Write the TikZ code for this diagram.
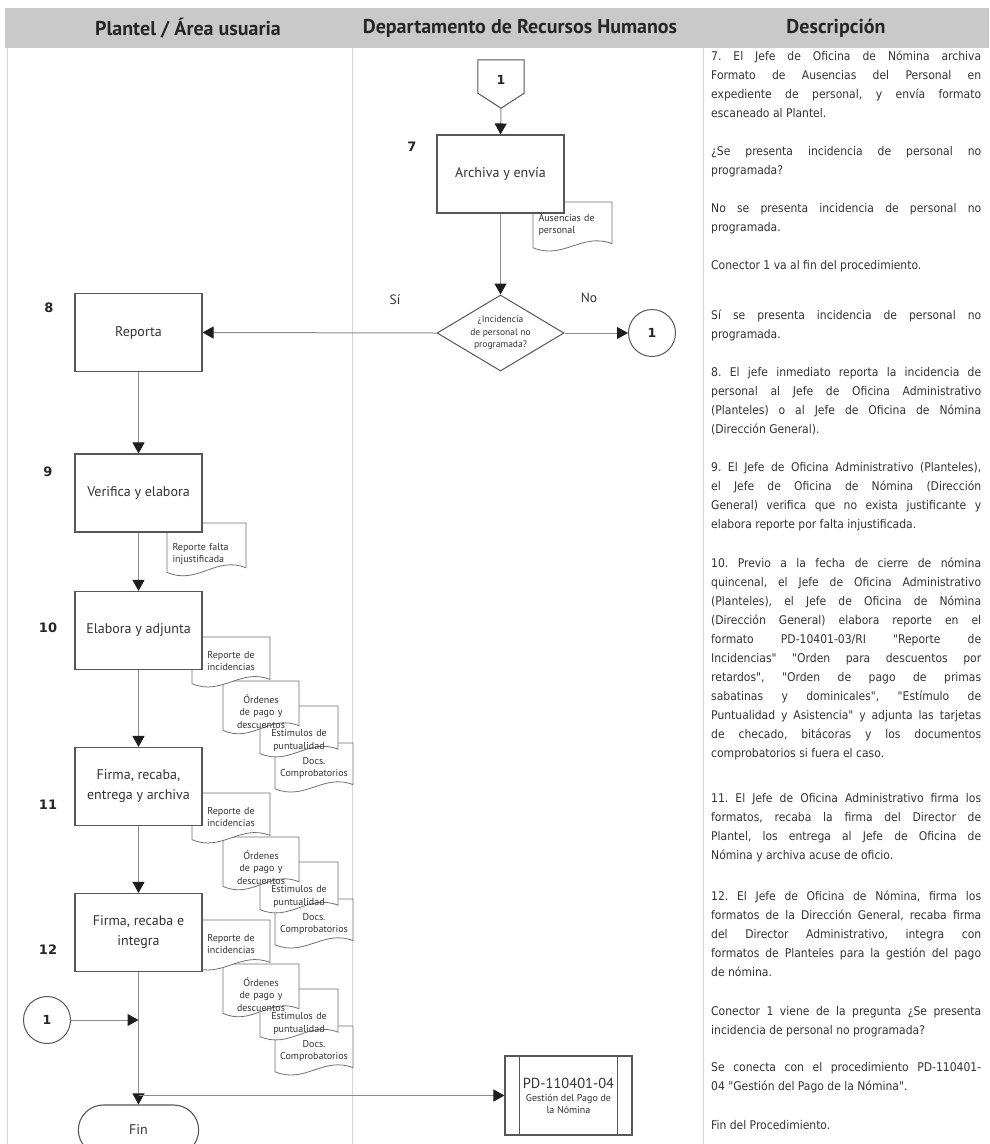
\documentclass[tikz,border=0pt]{standalone}
\usepackage{fontspec}
\setmainfont{DejaVu Sans}
\newfontfamily\descfont{DejaVu Sans Condensed}
\newfontfamily\headfont{PT Sans}
\newfontfamily\shapefont{PT Sans}
\usetikzlibrary{arrows.meta,shapes.geometric,shapes.misc}

\definecolor{lanegray}{HTML}{D6D6D6}
\definecolor{headgray}{HTML}{C9C9C9}
\definecolor{linegray}{HTML}{8C8C8C}
\definecolor{edgegray}{HTML}{575757}
\definecolor{inkgray}{HTML}{333333}
\definecolor{tipgray}{HTML}{1E1E1E}

% justified line / last line of a description paragraph
\newcommand\jl[1]{\makebox[270pt][s]{\strut#1}\\}
\newcommand\el[1]{\strut#1}
% description paragraph: name, vertical centre of first line, lines
\newcommand\para[3]{\node[desc] (#1) at (711,{#2-10.0}) {#3};}
% document symbol: [alignment] name, left, top, width, height, text centre (fraction of height), text
\newcommand\docsym[8][center]{%
  \filldraw[docline] (#3,#4) -- ({#3+#5},#4) -- ({#3+#5},{#4+0.80*#6})
    .. controls ({#3+0.62*#5},{#4+0.58*#6}) and ({#3+0.38*#5},{#4+1.12*#6}) .. (#3,{#4+0.88*#6}) -- cycle;
  \node[doctext,align=#1] (#2) at ({#3+#5/2},{#4+#7*#6}) {#8};}
% stack of four attachments hanging from a process box
\newcommand\docstack[2]{%
  \docsym{#1d}{275}{#2+106}{78}{52}{0.48}{Docs.\\Comprobatorios}
  \docsym{#1c}{260}{#2+69}{78}{54}{0.64}{Estímulos de\\puntualidad}
  \docsym{#1b}{223}{#2+44}{76}{56}{0.54}{Órdenes\\de pago y\\descuentos}
  \docsym{#1a}{192}{#2}{78}{53}{0.45}{Reporte de\\incidencias}}

\tikzset{
  stepbox/.style={draw=edgegray, line width=1.1pt, fill=white, minimum width=127pt,
    minimum height=78pt, inner sep=2pt, align=center, text=inkgray,
    font=\shapefont\fontsize{14}{20}\selectfont},
  decision/.style={diamond, draw=edgegray, line width=1pt, fill=white, minimum width=127pt,
    minimum height=76pt, inner sep=0pt, aspect=1.67, align=center, text=inkgray,
    font=\shapefont\fontsize{9.5}{12.5}\selectfont},
  conn/.style={circle, draw=edgegray, line width=1pt, fill=white, minimum size=47pt,
    inner sep=0pt, text=black!85, font=\bfseries\fontsize{12.5}{14}\selectfont},
  term/.style={rounded rectangle, draw=edgegray, line width=1.1pt, fill=white,
    minimum width=127pt, minimum height=50pt, text=inkgray,
    font=\shapefont\fontsize{14}{16}\selectfont},
  subproc/.style={draw=edgegray, line width=1.1pt, fill=white, minimum width=127pt,
    minimum height=79pt, inner sep=0pt, align=center, text=inkgray},
  flow/.style={draw=linegray, line width=1pt, -{Triangle[length=11pt,width=12pt,color=tipgray]}},
  stepno/.style={font=\bfseries\fontsize{13}{15}\selectfont, text=black!85},
  lbl/.style={font=\shapefont\fontsize{13.5}{16}\selectfont, text=inkgray},
  docline/.style={draw=edgegray!85, line width=0.8pt, fill=white},
  doctext/.style={inner sep=0pt, text width=68pt, text=inkgray,
    font=\shapefont\fontsize{10}{12.5}\selectfont},
  desc/.style={anchor=north west, inner sep=0pt, align=left, text=black!80,
    font=\descfont\fontsize{12}{19}\selectfont\frenchspacing},
  lane/.style={draw=lanegray, line width=0.8pt},
  headtext/.style={font=\headfont\bfseries\fontsize{20}{24}\selectfont, text=black!85},
}

\begin{document}
\begin{tikzpicture}[x=1pt,y=-1pt]
\useasboundingbox (0,0) rectangle (989,1144);
\clip (0,0) rectangle (989,1144);

% header band and lane borders
\fill[headgray] (5,8) rectangle (989,48);
\draw[lane] (7,48) -- (7,1144);
\draw[lane] (352,48) -- (352,1144);
\draw[lane] (703,48) -- (703,1144);
\node[headtext] (h1) at (188,28) {Plantel / Área usuaria};
\node[headtext] (h2) at (520,28) {Departamento de Recursos Humanos};
\node[headtext] (h3) at (836,28) {Descripción};

% description column
\para{d7}{57}{\jl{7. El Jefe de Oficina de Nómina archiva}\jl{Formato de Ausencias del Personal en}\jl{expediente de personal, y envía formato}\el{escaneado al Plantel.}}
\para{dq}{152}{\jl{¿Se presenta incidencia de personal no}\el{programada?}}
\para{dno}{209}{\jl{No se presenta incidencia de personal no}\el{programada.}}
\para{dcv}{266}{\el{Conector 1 va al fin del procedimiento.}}
\para{dsi}{316}{\jl{Sí se presenta incidencia de personal no}\el{programada.}}
\para{d8}{373}{\jl{8. El jefe inmediato reporta la incidencia de}\jl{personal al Jefe de Oficina Administrativo}\jl{(Planteles) o al Jefe de Oficina de Nómina}\el{(Dirección General).}}
\para{d9}{468}{\jl{9. El Jefe de Oficina Administrativo (Planteles),}\jl{el Jefe de Oficina de Nómina (Dirección}\jl{General) verifica que no exista justificante y}\el{elabora reporte por falta injustificada.}}
\para{d10}{564}{\jl{10. Previo a la fecha de cierre de nómina}\jl{quincenal, el Jefe de Oficina Administrativo}\jl{(Planteles), el Jefe de Oficina de Nómina}\jl{(Dirección General) elabora reporte en el}\jl{formato PD-10401-03/RI "Reporte de}\jl{Incidencias" "Orden para descuentos por}\jl{retardos", "Orden de pago de primas}\jl{sabatinas y dominicales", "Estímulo de}\jl{Puntualidad y Asistencia" y adjunta las tarjetas}\jl{de checado, bitácoras y los documentos}\el{comprobatorios si fuera el caso.}}
\para{d11}{799}{\jl{11. El Jefe de Oficina Administrativo firma los}\jl{formatos, recaba la firma del Director de}\jl{Plantel, los entrega al Jefe de Oficina de}\el{Nómina y archiva acuse de oficio.}}
\para{d12}{897}{\jl{12. El Jefe de Oficina de Nómina, firma los}\jl{formatos de la Dirección General, recaba firma}\jl{del Director Administrativo, integra con}\jl{formatos de Planteles para la gestión del pago}\el{de nómina.}}
\para{dcf}{1012}{\jl{Conector 1 viene de la pregunta ¿Se presenta}\el{incidencia de personal no programada?}}
\para{dpd}{1068}{\jl{Se conecta con el procedimiento PD-110401-}\el{04 "Gestión del Pago de la Nómina".}}
\para{dfin}{1126}{\el{Fin del Procedimiento.}}

% attachments (drawn first so the process boxes overlap them)
\docsym[left]{aus}{533}{202}{79}{52}{0.44}{Ausencias de\\personal}
\docsym[left]{rfi}{167}{523}{79}{56}{0.55}{Reporte falta\\injustificada}
\docstack{sa}{637}
\docstack{sb}{793}
\docstack{sc}{920}

% off-page connector
\node[inner sep=0pt, minimum width=46pt, minimum height=48pt] (op) at (501,84) {};
\draw[edgegray, line width=1pt, fill=white] (op.north west) -- (op.north east)
  -- ([yshift=15pt]op.south east) -- (op.south) -- ([yshift=15pt]op.south west) -- cycle;
\node[font=\bfseries\fontsize{12.5}{14}\selectfont, text=black!85] (opn) at (501,80) {1};

% process steps
\node[stepbox] (b7) at (500.5,174) {Archiva y envía};
\node[decision] (q) at (500.5,333) {¿Incidencia\\de personal no\\programada?};
\node[conn] (c1r) at (652,333) {1};
\node[stepbox] (b8) at (138.5,332.5) {Reporta};
\node[stepbox] (b9) at (138.5,493) {Verifica y elabora};
\node[stepbox] (b10) at (138.5,630.5) {Elabora y adjunta};
\node[stepbox] (b11) at (138.5,786.5) {Firma, recaba,\\entrega y archiva};
\node[stepbox] (b12) at (138.5,932.5) {Firma, recaba e\\integra};
\node[conn] (c1l) at (47,1020) {1};
\node[term] (fin) at (138.5,1130) {Fin};
\node[subproc] (pd) at (568.5,1095.5) {{\shapefont\fontsize{14.5}{18}\selectfont PD-110401-04}\\[1pt]
  {\shapefont\fontsize{10}{14}\selectfont Gestión del Pago de}\\{\shapefont\fontsize{10}{14}\selectfont la Nómina}};
\draw[edgegray, line width=1pt] ([xshift=15pt]pd.north west) -- ([xshift=15pt]pd.south west);
\draw[edgegray, line width=1pt] ([xshift=-15pt]pd.north east) -- ([xshift=-15pt]pd.south east);

% step numbers and branch labels
\node[stepno] (n7) at (412,147) {7};
\node[stepno] (n8) at (49,308) {8};
\node[stepno] (n9) at (48,472) {9};
\node[stepno] (n10) at (48,628) {10};
\node[stepno] (n11) at (48,805) {11};
\node[stepno] (n12) at (48,950) {12};
\node[lbl] (lsi) at (395,300) {Sí};
\node[lbl] (lno) at (589,298) {No};

% connectors
\draw[flow] (op.south) -- (b7.north);
\draw[flow] (b7.south) -- (q.north);
\draw[flow] (q.east) -- (c1r.west);
\draw[flow] (q.west) -- (b8.east);
\draw[flow] (b8.south) -- (b9.north);
\draw[flow] (b9.south) -- (b10.north);
\draw[flow] (b10.south) -- (b11.north);
\draw[flow] (b11.south) -- (b12.north);
\draw[flow] (b12.south) -- (fin.north);
\draw[flow] (c1l.east) -- (c1l -| b12.south);
\draw[flow] (pd.west -| b12.south) -- (pd.west);
\end{tikzpicture}
\end{document}
